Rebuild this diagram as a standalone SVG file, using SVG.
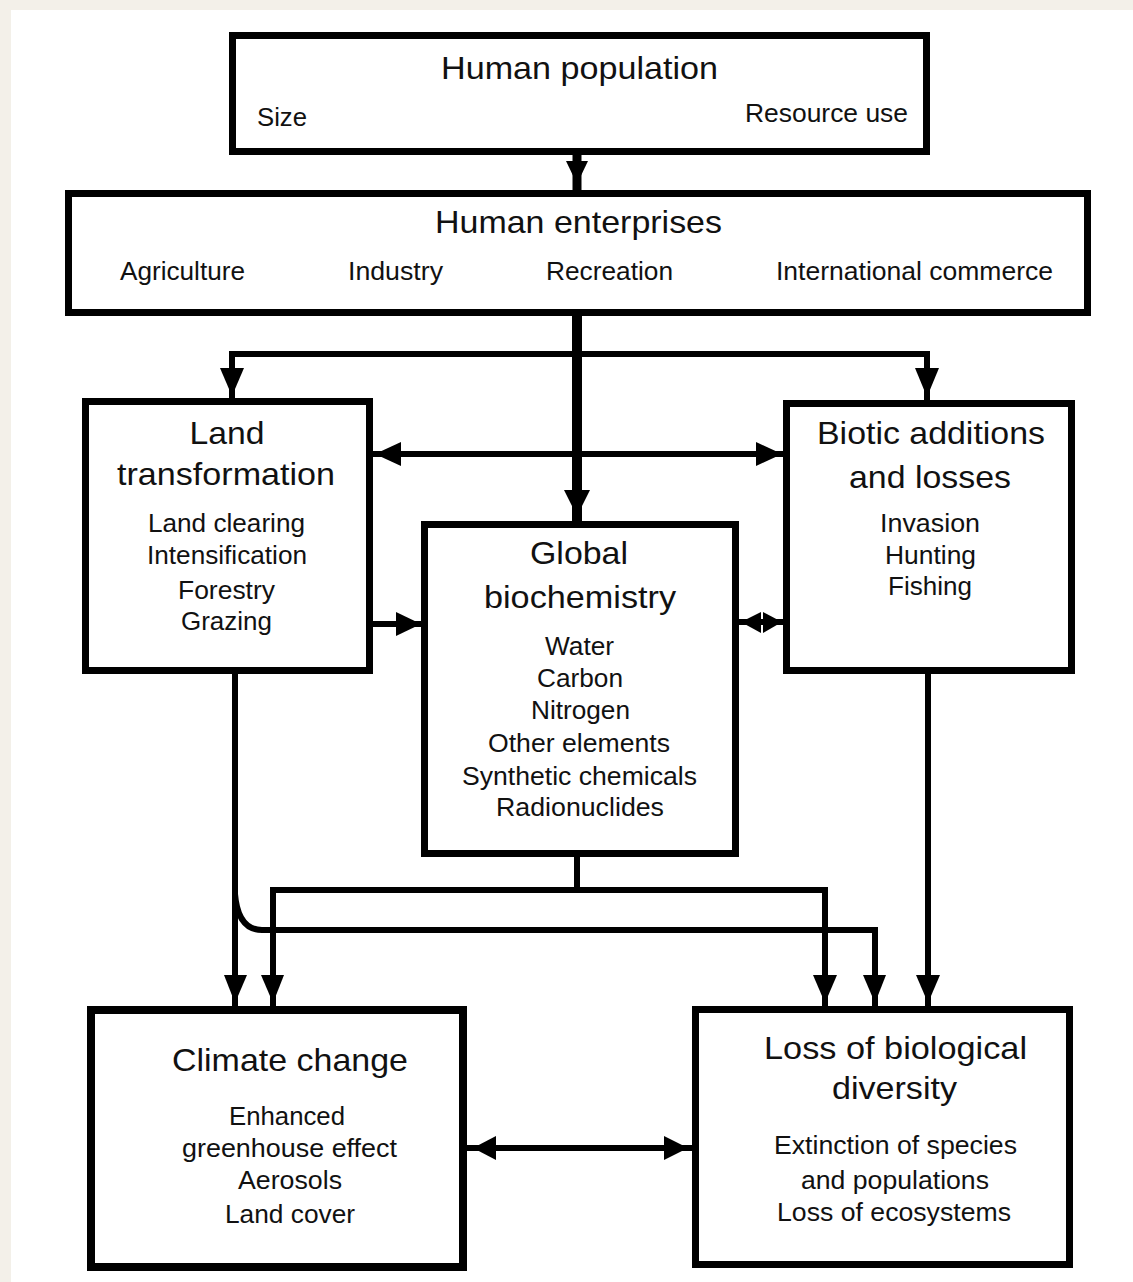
<svg xmlns="http://www.w3.org/2000/svg" width="1133" height="1282" viewBox="0 0 1133 1282">
  <style>
    .box { fill: #ffffff; stroke: #000000; stroke-width: 7; }
    .wire { fill: none; stroke: #000000; stroke-width: 6; }
    .head { fill: #000000; stroke: none; }
    text { font-family: "Liberation Sans", Arial, Helvetica, sans-serif; fill: #111111; text-anchor: middle; }
    .title { font-size: 32px; }
    .item { font-size: 25px; }
  </style>

  <!-- page -->
  <rect x="0" y="0" width="1133" height="1282" fill="#f3f0e9"/>
  <rect x="11" y="10" width="1122" height="1272" fill="#ffffff"/>

  <!-- connectors -->
  <g id="connectors">
    <!-- population to enterprises -->
    <line x1="577" y1="155" x2="577" y2="192" stroke="#000" stroke-width="9"/>
    <polygon class="head" points="566,161 588,161 577,184"/>

    <!-- enterprises trunk to biochemistry -->
    <line x1="577" y1="316" x2="577" y2="522" stroke="#000" stroke-width="10"/>
    <polygon class="head" points="564,490 590,490 577,516"/>

    <!-- branch to land and biotic -->
    <path class="wire" d="M232,400 V354 H927 V402"/>
    <polygon class="head" points="220,368 244,368 232,396"/>
    <polygon class="head" points="915,368 939,368 927,397"/>

    <!-- land <-> biotic -->
    <line class="wire" x1="373" y1="454" x2="784" y2="454"/>
    <polygon class="head" points="375,454 401,442 401,466"/>
    <polygon class="head" points="782,454 756,442 756,466"/>

    <!-- land -> biochemistry -->
    <line class="wire" x1="373" y1="624" x2="422" y2="624"/>
    <polygon class="head" points="421,624 396,612 396,636"/>

    <!-- biochemistry <-> biotic -->
    <line class="wire" x1="739" y1="622" x2="784" y2="622"/>
    <polygon class="head" points="741,622 761,612 761,633"/>
    <polygon class="head" points="782,622 763,612 763,633"/>

    <!-- land -> climate, with branch to loss -->
    <line class="wire" x1="235" y1="674" x2="235" y2="1008"/>
    <polygon class="head" points="224,975 247,975 235,1003"/>
    <path class="wire" d="M235,894 Q238,930 262,930 H875 V1008"/>
    <polygon class="head" points="863,975 886,975 875,1003"/>

    <!-- biochemistry -> climate and loss -->
    <path class="wire" d="M577,857 V890"/>
    <path class="wire" d="M273,1008 V890 H825 V1008"/>
    <polygon class="head" points="261,975 284,975 273,1003"/>
    <polygon class="head" points="813,975 837,975 825,1003"/>

    <!-- biotic -> loss -->
    <line class="wire" x1="928" y1="674" x2="928" y2="1008"/>
    <polygon class="head" points="916,975 940,975 928,1003"/>

    <!-- climate <-> loss -->
    <line class="wire" x1="467" y1="1148" x2="693" y2="1148"/>
    <polygon class="head" points="473,1148 496,1136 496,1160"/>
    <polygon class="head" points="688,1148 664,1136 664,1160"/>
  </g>

  <!-- nodes -->
  <g id="human-population">
    <rect class="box" x="232.5" y="35.5" width="694" height="116"/>
    <text class="title" x="579.5" y="79" textLength="277" lengthAdjust="spacingAndGlyphs">Human population</text>
    <text class="item" x="282" y="126" textLength="50" lengthAdjust="spacingAndGlyphs">Size</text>
    <text class="item" x="826.5" y="122" textLength="163" lengthAdjust="spacingAndGlyphs">Resource use</text>
  </g>

  <g id="human-enterprises">
    <rect class="box" x="68.5" y="193.5" width="1019" height="119"/>
    <text class="title" x="578.5" y="233" textLength="287" lengthAdjust="spacingAndGlyphs">Human enterprises</text>
    <text class="item" x="182.5" y="280" textLength="125" lengthAdjust="spacingAndGlyphs">Agriculture</text>
    <text class="item" x="395.5" y="280" textLength="95" lengthAdjust="spacingAndGlyphs">Industry</text>
    <text class="item" x="609.5" y="280" textLength="127" lengthAdjust="spacingAndGlyphs">Recreation</text>
    <text class="item" x="914.5" y="280" textLength="277" lengthAdjust="spacingAndGlyphs">International commerce</text>
  </g>

  <g id="land-transformation">
    <rect class="box" x="85.5" y="401.5" width="284" height="269"/>
    <text class="title" x="227" y="444" textLength="75" lengthAdjust="spacingAndGlyphs">Land</text>
    <text class="title" x="226" y="485" textLength="218" lengthAdjust="spacingAndGlyphs">transformation</text>
    <text class="item" x="226.5" y="532" textLength="157" lengthAdjust="spacingAndGlyphs">Land clearing</text>
    <text class="item" x="227" y="564" textLength="160" lengthAdjust="spacingAndGlyphs">Intensification</text>
    <text class="item" x="226.5" y="599" textLength="97" lengthAdjust="spacingAndGlyphs">Forestry</text>
    <text class="item" x="226.5" y="630" textLength="91" lengthAdjust="spacingAndGlyphs">Grazing</text>
  </g>

  <g id="biotic-additions">
    <rect class="box" x="786.5" y="403.5" width="285" height="267"/>
    <text class="title" x="931" y="444" textLength="228" lengthAdjust="spacingAndGlyphs">Biotic additions</text>
    <text class="title" x="930" y="488" textLength="162" lengthAdjust="spacingAndGlyphs">and losses</text>
    <text class="item" x="930" y="532" textLength="100" lengthAdjust="spacingAndGlyphs">Invasion</text>
    <text class="item" x="930.5" y="564" textLength="91" lengthAdjust="spacingAndGlyphs">Hunting</text>
    <text class="item" x="930" y="595" textLength="84" lengthAdjust="spacingAndGlyphs">Fishing</text>
  </g>

  <g id="global-biochemistry">
    <rect class="box" x="424.5" y="524.5" width="311" height="329"/>
    <text class="title" x="579" y="564" textLength="98" lengthAdjust="spacingAndGlyphs">Global</text>
    <text class="title" x="580" y="608" textLength="192" lengthAdjust="spacingAndGlyphs">biochemistry</text>
    <text class="item" x="579.5" y="655" textLength="69" lengthAdjust="spacingAndGlyphs">Water</text>
    <text class="item" x="580" y="687" textLength="86" lengthAdjust="spacingAndGlyphs">Carbon</text>
    <text class="item" x="580.5" y="719" textLength="99" lengthAdjust="spacingAndGlyphs">Nitrogen</text>
    <text class="item" x="579" y="752" textLength="182" lengthAdjust="spacingAndGlyphs">Other elements</text>
    <text class="item" x="579.5" y="785" textLength="235" lengthAdjust="spacingAndGlyphs">Synthetic chemicals</text>
    <text class="item" x="580" y="816" textLength="168" lengthAdjust="spacingAndGlyphs">Radionuclides</text>
  </g>

  <g id="climate-change">
    <rect x="91" y="1010" width="372" height="257" fill="#fff" stroke="#000" stroke-width="8"/>
    <text class="title" x="290" y="1071" textLength="236" lengthAdjust="spacingAndGlyphs">Climate change</text>
    <text class="item" x="287" y="1125" textLength="116" lengthAdjust="spacingAndGlyphs">Enhanced</text>
    <text class="item" x="289.5" y="1157" textLength="215" lengthAdjust="spacingAndGlyphs">greenhouse effect</text>
    <text class="item" x="290" y="1189" textLength="104" lengthAdjust="spacingAndGlyphs">Aerosols</text>
    <text class="item" x="290" y="1223" textLength="130" lengthAdjust="spacingAndGlyphs">Land cover</text>
  </g>

  <g id="loss-of-biodiversity">
    <rect class="box" x="695.5" y="1009.5" width="374" height="255"/>
    <text class="title" x="895.5" y="1059" textLength="263" lengthAdjust="spacingAndGlyphs">Loss of biological</text>
    <text class="title" x="894.5" y="1099" textLength="125" lengthAdjust="spacingAndGlyphs">diversity</text>
    <text class="item" x="895.5" y="1154" textLength="243" lengthAdjust="spacingAndGlyphs">Extinction of species</text>
    <text class="item" x="895" y="1189" textLength="188" lengthAdjust="spacingAndGlyphs">and populations</text>
    <text class="item" x="894" y="1221" textLength="234" lengthAdjust="spacingAndGlyphs">Loss of ecosystems</text>
  </g>
</svg>
